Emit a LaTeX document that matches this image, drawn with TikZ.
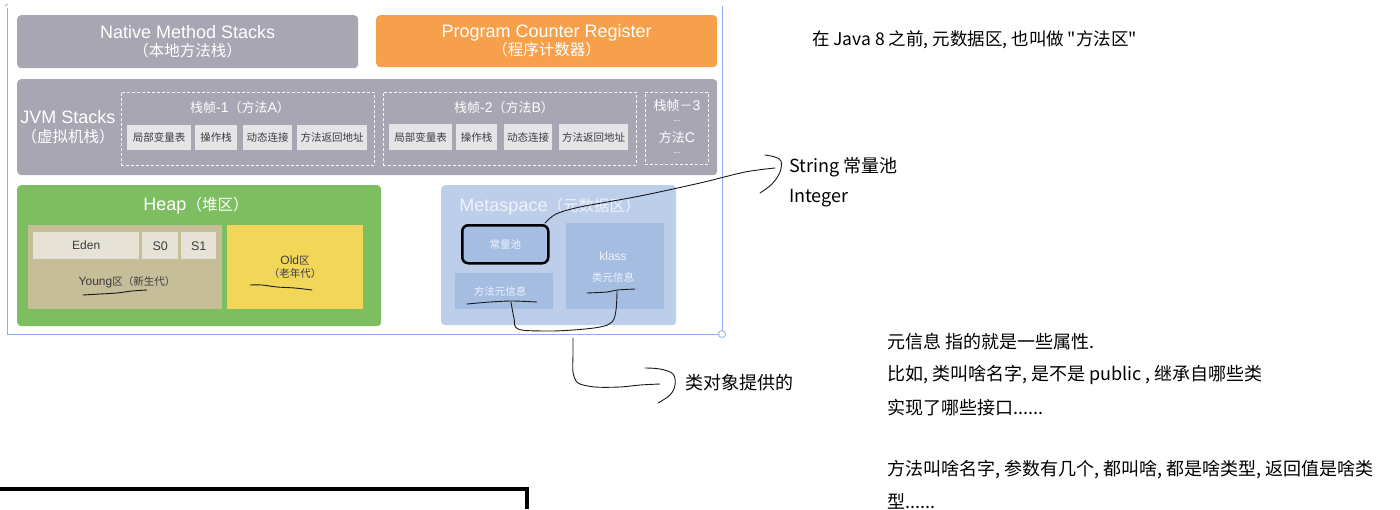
\documentclass[tikz,border=0pt]{standalone}
\usepackage{fontspec}
\setmainfont{Noto Sans CJK SC}[Ligatures=TeXOff]
\newfontfamily\lat{Liberation Sans}
\newcommand\LT[2]{{\lat\fontsize{#1}{#1}\selectfont #2}}
\definecolor{nmsgray}{RGB}{168,166,178}
\definecolor{pcrorange}{RGB}{246,160,76}
\definecolor{cellgray}{RGB}{229,229,232}
\definecolor{celltext}{RGB}{60,60,64}
\definecolor{heapgreen}{RGB}{124,190,96}
\definecolor{youngtan}{RGB}{198,190,152}
\definecolor{edencell}{RGB}{230,227,214}
\definecolor{oldyellow}{RGB}{241,214,88}
\definecolor{metablue}{RGB}{188,206,234}
\definecolor{metainner}{RGB}{166,189,226}
\definecolor{metatext}{RGB}{238,243,252}
\definecolor{selblue}{RGB}{140,172,238}
\begin{document}
\begin{tikzpicture}[x=1pt,y=-1pt,
  box/.style={draw=none, rounded corners=4pt, inner sep=0pt, anchor=north west, align=center},
  sq/.style={draw=none, inner sep=0pt, anchor=north west, align=center},
  frame/.style={draw=white!92!nmsgray, dash pattern=on 3pt off 2pt, line width=0.9pt, inner sep=0pt, anchor=north west},
  cell/.style={sq, fill=cellgray, text=celltext, font=\fontsize{10.5}{12}\selectfont},
  big/.style={inner sep=0pt, align=center, font=\fontsize{15.5}{19}\selectfont},
  mid/.style={inner sep=0pt, align=center, font=\fontsize{13}{15}\selectfont},
  small/.style={inner sep=0pt, align=center, font=\fontsize{10.5}{12.5}\selectfont},
  dots/.style={inner sep=0pt, text=white, font=\fontsize{8}{8}\selectfont},
  note/.style={inner sep=0pt, anchor=west, font=\fontsize{18}{20}\selectfont},
  hand/.style={draw=black!90, line width=0.9pt, line cap=round, line join=round},
]
\useasboundingbox (0,0) rectangle (1400,509);
\fill[white] (0,0) rectangle (1400,509);

% selection frame
\draw[selblue, line width=0.8pt] (7,8) -- (7,334) -- (722,334) -- (722,6);
\draw[selblue, line width=0.8pt] (5,6) -- (8,4);
\draw[selblue, line width=0.8pt, fill=white] (722,334) circle (3.5);

% top row
\node[box, fill=nmsgray, minimum width=341pt, minimum height=53pt, text=white, font=\fontsize{15.5}{18}\selectfont] (nms) at (17,15) {\LT{18}{Native Method Stacks}\\（本地方法栈）};
\node[box, fill=pcrorange, minimum width=341pt, minimum height=52pt, text=white, font=\fontsize{15.5}{18}\selectfont] (pcr) at (376,15) {\LT{18}{Program Counter Register}\\（程序计数器）};

% JVM stacks
\node[box, fill=nmsgray, minimum width=700pt, minimum height=96pt] (jvm) at (17,79) {};
\node[big, text=white] (jvmlabel) at (68,127.5) {\LT{18}{JVM Stacks}\\（虚拟机栈）};

\node[frame, minimum width=253pt, minimum height=73pt] (f1) at (121,92) {};
\node[mid, text=white] (f1t) at (240,108) {栈帧\LT{14}{-1}（方法\LT{14}{A}）};
\node[cell, minimum width=64pt, minimum height=25pt] (f1a) at (127,125) {局部变量表};
\node[cell, minimum width=42pt, minimum height=25pt] (f1b) at (195,125) {操作栈};
\node[cell, minimum width=49pt, minimum height=25pt] (f1c) at (243,125) {动态连接};
\node[cell, minimum width=70pt, minimum height=25pt] (f1d) at (297,125) {方法返回地址};

\node[frame, minimum width=253pt, minimum height=73pt] (f2) at (383,92) {};
\node[mid, text=white] (f2t) at (504,108) {栈帧\LT{14}{-2}（方法\LT{14}{B}）};
\node[cell, minimum width=63pt, minimum height=26pt] (f2a) at (389,124) {局部变量表};
\node[cell, minimum width=41pt, minimum height=26pt] (f2b) at (456,124) {操作栈};
\node[cell, minimum width=48pt, minimum height=26pt] (f2c) at (504,124) {动态连接};
\node[cell, minimum width=69pt, minimum height=26pt] (f2d) at (559,124) {方法返回地址};

\node[frame, minimum width=63pt, minimum height=72pt] (f3) at (645,92) {};
\node[mid, text=white] (f3t) at (677,106) {栈帧－\LT{14}{3}};
\node[dots] (f3d1) at (677,121) {...};
\node[mid, text=white] (f3m) at (677,138) {方法\LT{14}{C}};
\node[dots] (f3d2) at (677,153) {...};

% Heap
\node[box, fill=heapgreen, minimum width=364pt, minimum height=141pt] (heap) at (17,185) {};
\node[big, text=white] (heapt) at (196,206) {\LT{18}{Heap}（堆区）};
\node[sq, fill=youngtan, minimum width=194pt, minimum height=84pt] (young) at (28,225) {};
\node[sq, fill=edencell, text=celltext, font=\lat\fontsize{12}{13}\selectfont, minimum width=106pt, minimum height=27pt] (eden) at (33,232) {Eden};
\node[sq, fill=edencell, text=celltext, font=\lat\fontsize{12.5}{13}\selectfont, minimum width=36pt, minimum height=27pt] (s0) at (142,232) {S0};
\node[sq, fill=edencell, text=celltext, font=\lat\fontsize{12.5}{13}\selectfont, minimum width=35pt, minimum height=27pt] (s1) at (181,232) {S1};
\node[small, text=celltext] (youngt) at (127,282) {\LT{12}{Young}区（新生代）};
\node[sq, fill=oldyellow, minimum width=136pt, minimum height=84pt] (old) at (227,225) {};
\node[small, text=celltext] (oldt) at (295,267) {\LT{12}{Old}区\\（老年代）};

% Metaspace
\node[box, fill=metablue, minimum width=235pt, minimum height=140pt] (meta) at (441,185) {};
\node[big, text=metatext] (metat) at (550,207) {\LT{18}{Metaspace}（元数据区）};
\node[box, fill=metainner, draw=black, line width=2.5pt, rounded corners=6pt, minimum width=86pt, minimum height=38pt, text=metatext, font=\fontsize{10.5}{12}\selectfont] (pool) at (461,224) {常量池};
\node[sq, fill=metainner, minimum width=98pt, minimum height=36pt] (minfo) at (455,273) {};
\node[inner sep=0pt, text=metatext, font=\fontsize{10.5}{12}\selectfont] (minfot) at (500,291) {方法元信息};
\node[sq, fill=metainner, minimum width=98pt, minimum height=86pt] (klass) at (566,223) {};
\node[inner sep=0pt, text=metatext, font=\lat\fontsize{12}{13}\selectfont] (klasst) at (613,256) {klass};
\node[inner sep=0pt, text=metatext, font=\fontsize{10.5}{12}\selectfont] (klassi) at (613,277) {类元信息};

% handwritten marks in heap
\draw[hand] plot[smooth] coordinates {(83,295) (100,294) (117,293) (132,291) (147,290)};
\draw[hand] plot[smooth] coordinates {(250,285) (262,285) (277,287) (295,288) (312,290)};

% handwritten marks in metaspace
\draw[hand] plot[smooth] coordinates {(467,304) (490,302) (512,301) (537,302)};
\draw[hand] plot[smooth] coordinates {(587,293) (607,292) (617,290) (635,289)};
\coordinate (mj) at (511,302);
\coordinate (kj) at (617,291);
\draw[hand] plot[smooth, tension=0.6] coordinates {(mj) (514,318) (518,329) (545,331) (573,330) (600,327) (612,322) (616,310) (kj)};

% String annotation
\coordinate (sbr) at (775,168);
\draw[hand] plot[smooth, tension=0.5] coordinates {(545,223) (556,214) (580,207) (640,196) (700,183) (745,172) (sbr)};
\draw[hand] plot[smooth, tension=0.6] coordinates {(765,155) (775,157) (781,161) (780,172) (772,184) (760,193)};
\node[note] (strt) at (789,167) {String 常量池};
\node[note] (intt) at (789,198) {Integer};

% class object annotation
\coordinate (cbr) at (660,384);
\draw[hand] plot[smooth, tension=0.5] coordinates {(573,338) (573,355) (573,372) (578,383) (595,387) (620,387) (640,385) (cbr)};
\draw[hand] plot[smooth, tension=0.6] coordinates {(645,368) (660,369) (673,374) (675,385) (670,395) (658,403)};
\node[note] (clst) at (685,383) {类对象提供的};

% right-hand notes
\node[inner sep=0pt, anchor=west, font=\fontsize{17.5}{19}\selectfont] (top) at (812,40) {在 Java 8 之前, 元数据区, 也叫做 "方法区"};
\node[note] (n1) at (887,342) {元信息 指的就是一些属性.};
\node[note] (n2) at (887,375) {比如, 类叫啥名字, 是不是 public , 继承自哪些类};
\node[note] (n3) at (887,408) {实现了哪些接口......};
\node[note] (n4) at (887,470) {方法叫啥名字, 参数有几个, 都叫啥, 都是啥类型, 返回值是啥类};
\node[note] (n5) at (887,501) {型......};

% bottom black line
\coordinate (bl) at (0,489);
\coordinate (bc) at (527,489);
\coordinate (bd) at (527,509);
\draw[black, line width=3.5pt] (bl) -- (bc) -- (bd);
\end{tikzpicture}
\end{document}
